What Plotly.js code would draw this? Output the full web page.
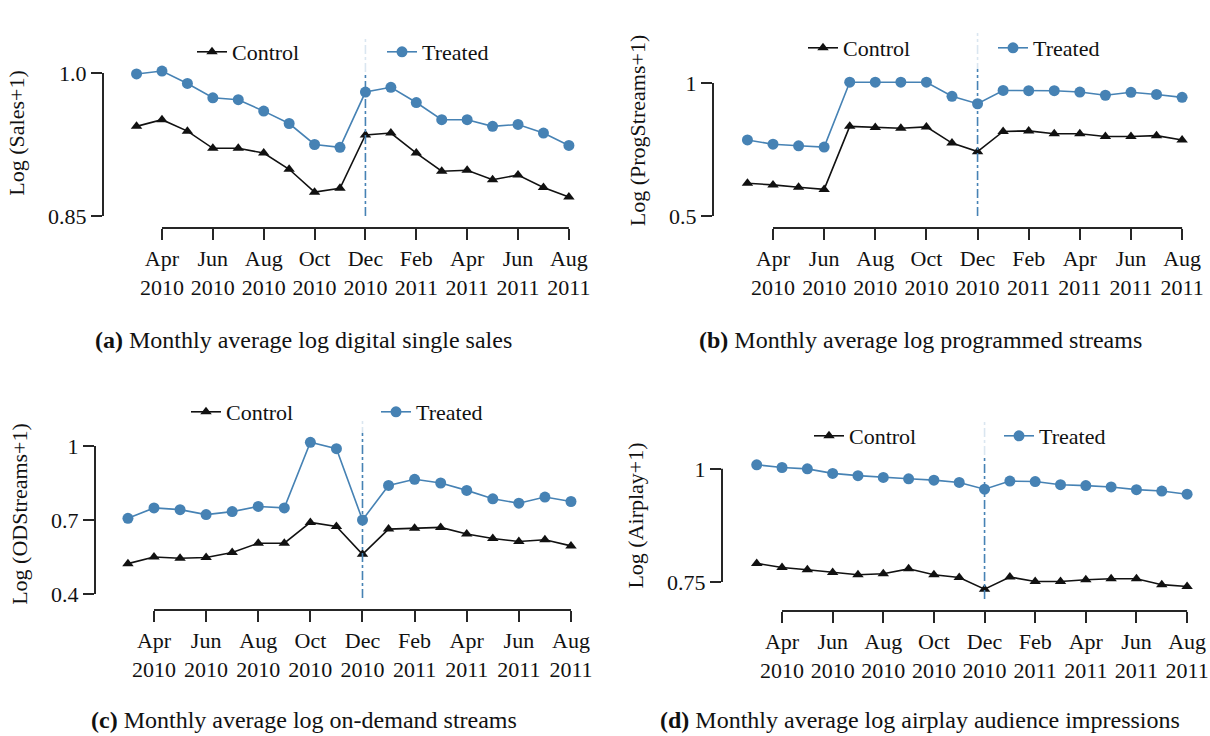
<!DOCTYPE html>
<html>
<head>
<meta charset="utf-8">
<script src="https://cdn.plot.ly/plotly-3.0.1.min.js"></script>
<style>html,body{margin:0;padding:0;background:#fff;}#chart{width:1210px;height:736px;}</style>
</head>
<body>
<div id="chart"></div>
<script>
// ---------- data ----------
const months = ['2010-03','2010-04','2010-05','2010-06','2010-07','2010-08','2010-09','2010-10','2010-11','2010-12',
                '2011-01','2011-02','2011-03','2011-04','2011-05','2011-06','2011-07','2011-08'];
const tickMonths = ['2010-04','2010-06','2010-08','2010-10','2010-12','2011-02','2011-04','2011-06','2011-08'];
const tickLabels = ['Apr<br>2010','Jun<br>2010','Aug<br>2010','Oct<br>2010','Dec<br>2010','Feb<br>2011','Apr<br>2011','Jun<br>2011','Aug<br>2011'];
const treatMonth = '2010-12';

const salesControl = [0.944,0.951,0.939,0.921,0.921,0.916,0.899,0.875,0.879,0.935,0.937,0.916,0.897,0.898,0.888,0.893,0.880,0.870];
const salesTreated = [0.999,1.002,0.989,0.974,0.972,0.960,0.947,0.925,0.922,0.980,0.985,0.969,0.951,0.951,0.944,0.946,0.937,0.924];
const progControl  = [0.623,0.617,0.608,0.600,0.837,0.833,0.830,0.835,0.774,0.742,0.818,0.820,0.809,0.809,0.799,0.799,0.802,0.786];
const progTreated  = [0.786,0.770,0.764,0.759,1.003,1.003,1.003,1.003,0.950,0.922,0.972,0.971,0.971,0.966,0.954,0.965,0.957,0.946];
const odControl    = [0.523,0.550,0.545,0.548,0.568,0.606,0.606,0.690,0.674,0.561,0.663,0.667,0.670,0.643,0.625,0.613,0.620,0.595];
const odTreated    = [0.707,0.749,0.742,0.722,0.734,0.755,0.749,1.015,0.989,0.700,0.840,0.865,0.850,0.820,0.786,0.768,0.793,0.775];
const airControl   = [0.791,0.782,0.777,0.771,0.766,0.768,0.779,0.766,0.760,0.734,0.761,0.751,0.751,0.755,0.757,0.757,0.744,0.740];
const airTreated   = [1.009,1.003,1.000,0.990,0.985,0.981,0.978,0.975,0.970,0.955,0.973,0.972,0.965,0.963,0.960,0.954,0.951,0.944];

const yTicksSales = [0.85, 1.0];   const yLabSales = ['0.85','1.0'];
const yTicksProg  = [0.5, 1];      const yLabProg  = ['0.5','1'];
const yTicksOD    = [0.4, 0.7, 1]; const yLabOD    = ['0.4','0.7','1'];
const yTicksAir   = [0.75, 1];     const yLabAir   = ['0.75','1'];

const yTitles = ['Log (Sales+1)','Log (ProgStreams+1)','Log (ODStreams+1)','Log (Airplay+1)'];
const captions = ['<b>(a)</b> Monthly average log digital single sales',
                  '<b>(b)</b> Monthly average log programmed streams',
                  '<b>(c)</b> Monthly average log on-demand streams',
                  '<b>(d)</b> Monthly average log airplay audience impressions'];

// ---------- layout helpers ----------
const W = 1210, H = 736;
const FONT = 'Liberation Serif, Times New Roman, serif';
const FS = 22, CAP_FS = 24;
const BLUE = '#4682b4', BLACK = '#111111', AX = '#262626';
const xIdx = months.map((m, i) => i);
const tickIdx = tickMonths.map(m => months.indexOf(m));
const treatIdx = months.indexOf(treatMonth);

// panel geometry (pixels)
const panels = [
  {ctrl: salesControl, trt: salesTreated, yt: yTicksSales, yl: yLabSales,
   xd: [103, 590], xr: [-1.319, 17.83], yd: [228, 38], yr: [0.8374, 1.0367],
   leg: [192, 52], cap: [303, 340]},
  {ctrl: progControl, trt: progTreated, yt: yTicksProg, yl: yLabProg,
   xd: [713, 1200], xr: [-1.347, 17.70], yd: [228, 33], yr: [0.4549, 1.188],
   leg: [803, 48], cap: [920, 340]},
  {ctrl: odControl, trt: odTreated, yt: yTicksOD, yl: yLabOD,
   xd: [95, 590], xr: [-1.264, 17.73], yd: [610, 418], yr: [0.3351, 1.1135],
   leg: [186, 412], cap: [304, 720]},
  {ctrl: airControl, trt: airTreated, yt: yTicksAir, yl: yLabAir,
   xd: [722, 1200], xr: [-1.371, 17.51], yd: [611, 420], yr: [0.6858, 1.108],
   leg: [809, 436], cap: [920, 720]}
];
const OFFSET = 12; // spine offset in px

const data = [];
const layout = {
  width: W, height: H, margin: {l: 0, r: 0, t: 0, b: 0},
  paper_bgcolor: '#fff', plot_bgcolor: 'rgba(0,0,0,0)',
  font: {family: FONT, size: FS, color: '#111'},
  shapes: [], annotations: []
};

panels.forEach((p, k) => {
  const n = k + 1;
  const xa = 'x' + (n === 1 ? '' : n), ya = 'y' + (n === 1 ? '' : n);
  const xk = 'xaxis' + (n === 1 ? '' : n), yk = 'yaxis' + (n === 1 ? '' : n);
  const lg = 'legend' + (n === 1 ? '' : n);
  data.push({x: xIdx, y: p.ctrl, xaxis: xa, yaxis: ya, legend: lg, name: 'Control', mode: 'lines+markers',
             line: {color: BLACK, width: 1.6}, marker: {symbol: 'triangle-up', size: 10, color: BLACK}});
  data.push({x: xIdx, y: p.trt, xaxis: xa, yaxis: ya, legend: lg, name: 'Treated', mode: 'lines+markers',
             line: {color: BLUE, width: 1.6}, marker: {symbol: 'circle', size: 11, color: BLUE}});
  layout[xk] = {domain: [p.xd[0] / W, p.xd[1] / W], range: p.xr, anchor: ya,
    showline: false, showgrid: false, zeroline: false,
    tickmode: 'array', tickvals: tickIdx, ticktext: tickLabels,
    ticks: 'outside', ticklen: 11, tickwidth: 2, tickcolor: AX, ticklabeloverflow: 'allow',
    tickfont: {family: FONT, size: FS, color: '#111'}};
  layout[yk] = {domain: [1 - p.yd[0] / H, 1 - p.yd[1] / H], range: p.yr, anchor: xa,
    showline: false, showgrid: false, zeroline: false,
    tickmode: 'array', tickvals: p.yt, ticktext: p.yl,
    ticks: 'outside', ticklen: 11, tickwidth: 2, tickcolor: AX,
    tickfont: {family: FONT, size: FS, color: '#111'},
    title: {text: yTitles[k], font: {family: FONT, size: FS, color: '#111'}, standoff: 17}};
  const hPx = p.yd[0] - p.yd[1];
  // trimmed spines
  layout.shapes.push({type: 'line', xref: xa + ' domain', yref: ya, x0: 0, x1: 0,
    y0: p.yt[0], y1: p.yt[p.yt.length - 1], line: {color: AX, width: 2}});
  layout.shapes.push({type: 'line', xref: xa, yref: ya + ' domain', x0: tickIdx[0], x1: tickIdx[tickIdx.length - 1],
    y0: 0, y1: 0, line: {color: AX, width: 2}});
  // treatment line
  layout.shapes.push({type: 'line', xref: xa, yref: ya + ' domain', x0: treatIdx, x1: treatIdx,
    y0: OFFSET / hPx, y1: 1, layer: 'above', line: {color: BLUE, width: 1.6, dash: 'dashdot'}});
  layout[lg] = {orientation: 'h', x: p.leg[0] / W, y: 1 - p.leg[1] / H, xanchor: 'left', yanchor: 'middle',
    bgcolor: 'rgba(255,255,255,0.8)', font: {family: FONT, size: FS, color: '#111'},
    entrywidth: 145, entrywidthmode: 'pixels'};
  layout.annotations.push({xref: 'paper', yref: 'paper', x: p.cap[0] / W, y: 1 - p.cap[1] / H,
    xanchor: 'center', yanchor: 'middle', showarrow: false, text: captions[k],
    font: {family: FONT, size: CAP_FS, color: '#111'}});
});

Plotly.newPlot('chart', data, layout, {displayModeBar: false, staticPlot: true});
</script>
</body>
</html>
